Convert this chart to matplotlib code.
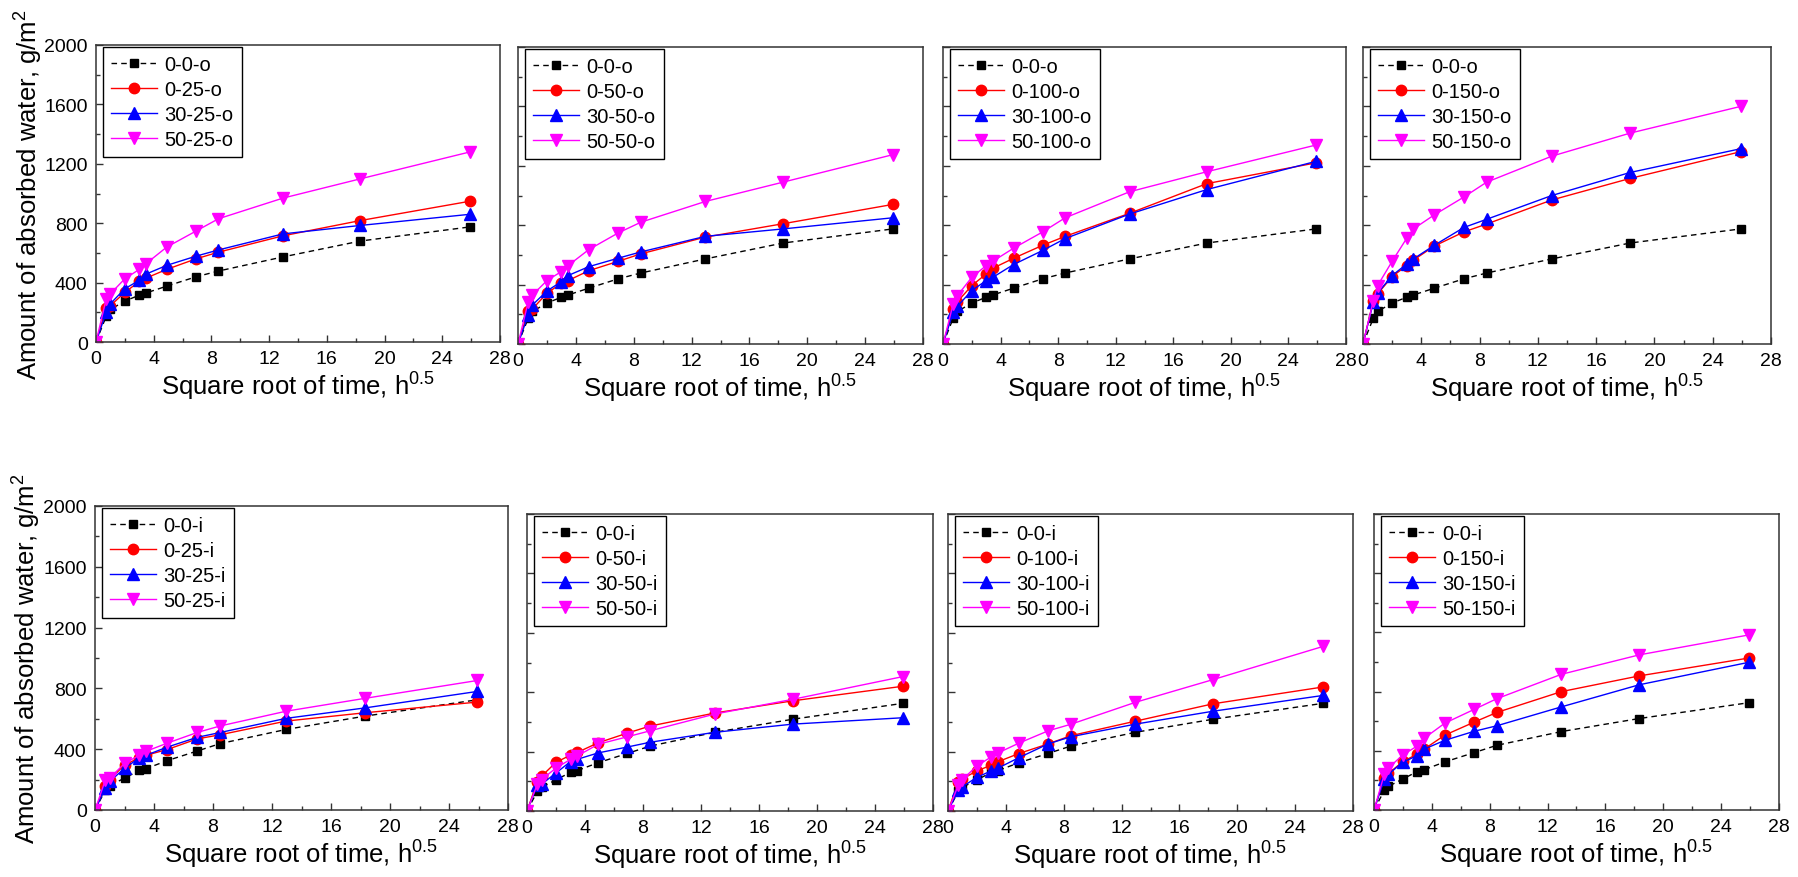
import numpy as np
import matplotlib
matplotlib.use('Agg')
import matplotlib.pyplot as plt
from matplotlib.ticker import MultipleLocator

plt.rcParams['font.family'] = ['Liberation Sans', 'DejaVu Sans']
plt.rcParams['mathtext.fontset'] = 'custom'
plt.rcParams['mathtext.rm'] = 'Liberation Sans'
plt.rcParams['mathtext.it'] = 'Liberation Sans:italic'

# square root of time, h^0.5
x_sqrt = [0, 0.71, 1.0, 2.0, 3.0, 3.46, 4.90, 6.93, 8.49, 12.96, 18.33, 25.92]

# outer surface (o) series
ref_o = [0, 174, 219, 276, 315, 330, 376, 439, 478, 573, 680, 775]
o_0_25 = [0, 230, 245, 334, 408, 430, 489, 560, 605, 715, 818, 948]
o_30_25 = [0, 200, 258, 359, 415, 457, 516, 578, 620, 728, 785, 860]
o_50_25 = [0, 291, 325, 426, 489, 527, 639, 747, 830, 969, 1099, 1280]
o_0_50 = [0, 225, 236, 342, 409, 427, 494, 557, 607, 720, 810, 940]
o_30_50 = [0, 196, 263, 357, 420, 461, 521, 578, 620, 725, 775, 850]
o_50_50 = [0, 285, 330, 427, 488, 528, 636, 748, 820, 960, 1090, 1275]
o_0_100 = [0, 236, 285, 393, 472, 510, 577, 665, 725, 880, 1080, 1220]
o_30_100 = [0, 213, 254, 360, 427, 449, 535, 630, 710, 875, 1040, 1230]
o_50_100 = [0, 270, 326, 449, 528, 557, 645, 755, 850, 1025, 1160, 1340]
o_0_150 = [0, 292, 337, 454, 528, 565, 660, 755, 808, 970, 1115, 1295]
o_30_150 = [0, 281, 342, 461, 539, 573, 665, 785, 840, 1000, 1155, 1315]
o_50_150 = [0, 292, 393, 557, 712, 775, 870, 990, 1090, 1265, 1420, 1600]

# inner surface (i) series
ref_i = [0, 132, 160, 210, 260, 272, 325, 388, 437, 530, 618, 725]
i_0_25 = [0, 160, 200, 296, 343, 360, 398, 468, 495, 585, 640, 710]
i_30_25 = [0, 145, 188, 274, 343, 360, 414, 478, 510, 603, 672, 780]
i_50_25 = [0, 199, 210, 306, 360, 386, 440, 510, 553, 650, 735, 852]
i_0_50 = [0, 197, 234, 328, 376, 394, 459, 525, 572, 660, 742, 840]
i_30_50 = [0, 173, 180, 256, 333, 348, 391, 431, 463, 530, 585, 628]
i_50_50 = [0, 180, 212, 289, 348, 370, 449, 500, 540, 653, 752, 905]
i_0_100 = [0, 195, 216, 271, 308, 332, 387, 452, 507, 605, 722, 835]
i_30_100 = [0, 140, 164, 227, 271, 289, 359, 452, 500, 585, 672, 778]
i_50_100 = [0, 173, 212, 304, 365, 391, 457, 540, 584, 732, 885, 1108]
i_0_150 = [0, 217, 247, 328, 378, 411, 506, 594, 659, 800, 906, 1027]
i_30_150 = [0, 207, 242, 323, 368, 411, 471, 532, 569, 697, 846, 998]
i_50_150 = [0, 240, 284, 373, 433, 484, 587, 680, 752, 917, 1048, 1183]

panels = [
    (ref_o, o_0_25, o_30_25, o_50_25, ['0-0-o', '0-25-o', '30-25-o', '50-25-o']),
    (ref_o, o_0_50, o_30_50, o_50_50, ['0-0-o', '0-50-o', '30-50-o', '50-50-o']),
    (ref_o, o_0_100, o_30_100, o_50_100, ['0-0-o', '0-100-o', '30-100-o', '50-100-o']),
    (ref_o, o_0_150, o_30_150, o_50_150, ['0-0-o', '0-150-o', '30-150-o', '50-150-o']),
    (ref_i, i_0_25, i_30_25, i_50_25, ['0-0-i', '0-25-i', '30-25-i', '50-25-i']),
    (ref_i, i_0_50, i_30_50, i_50_50, ['0-0-i', '0-50-i', '30-50-i', '50-50-i']),
    (ref_i, i_0_100, i_30_100, i_50_100, ['0-0-i', '0-100-i', '30-100-i', '50-100-i']),
    (ref_i, i_0_150, i_30_150, i_50_150, ['0-0-i', '0-150-i', '30-150-i', '50-150-i']),
]

# axes boxes in pixels: left, top, right, bottom
W, H = 1798, 878
boxes = [
    (96, 46, 500, 343), (518, 48, 923, 345), (943, 48, 1346, 345), (1363, 48, 1771, 345),
    (95, 507, 508, 811), (527, 515, 933, 812), (948, 515, 1353, 812), (1374, 515, 1779, 811),
]

fig = plt.figure(figsize=(W / 100, H / 100), dpi=100)

for k, (ref, s1, s2, s3, labels) in enumerate(panels):
    l, t, r, b = boxes[k]
    ax = fig.add_axes([l / W, 1 - b / H, (r - l) / W, (b - t) / H])
    ax.plot(x_sqrt, ref, color='black', ls=(0, (4, 3)), lw=1, marker='s', ms=6, label=labels[0])
    ax.plot(x_sqrt, s1, color='#FF0000', lw=1, marker='o', ms=7.5, label=labels[1])
    ax.plot(x_sqrt, s2, color='#0000FF', lw=1, marker='^', ms=8, label=labels[2])
    ax.plot(x_sqrt, s3, color='#FF00FF', lw=1, marker='v', ms=8, label=labels[3])

    ax.set_xlim(0, 28)
    ax.set_ylim(0, 2000)
    ax.xaxis.set_major_locator(MultipleLocator(4))
    ax.xaxis.set_minor_locator(MultipleLocator(2))
    ax.yaxis.set_major_locator(MultipleLocator(400))
    ax.yaxis.set_minor_locator(MultipleLocator(200))
    ax.tick_params(which='both', direction='in', labelsize=14, pad=6, color='#333333')
    ax.tick_params(which='major', length=5, width=1)
    ax.tick_params(which='minor', length=3, width=1)
    for sp in ax.spines.values():
        sp.set_linewidth(1.1)
        sp.set_color('#333333')

    ax.set_xlabel('Square root of time, h$^{\\mathregular{0.5}}$', fontsize=18.5, labelpad=2)
    if k % 4 == 0:
        ax.set_ylabel('Amount of absorbed water, g/m$^{\\mathregular{2}}$', fontsize=18.5)
        ax.yaxis.set_label_coords(-0.127, 0.5)
    else:
        ax.tick_params(axis='y', labelleft=False)

    leg = ax.legend(loc='upper left', bbox_to_anchor=(7 / (r - l), 1 - 2 / (b - t)),
                    borderaxespad=0, fontsize=14.5, fancybox=False, edgecolor='black',
                    framealpha=1, handlelength=2.3, handletextpad=0.35, labelspacing=0.3,
                    borderpad=0.4)
    leg.get_frame().set_linewidth(1)

plt.savefig('out.png', dpi=100)
